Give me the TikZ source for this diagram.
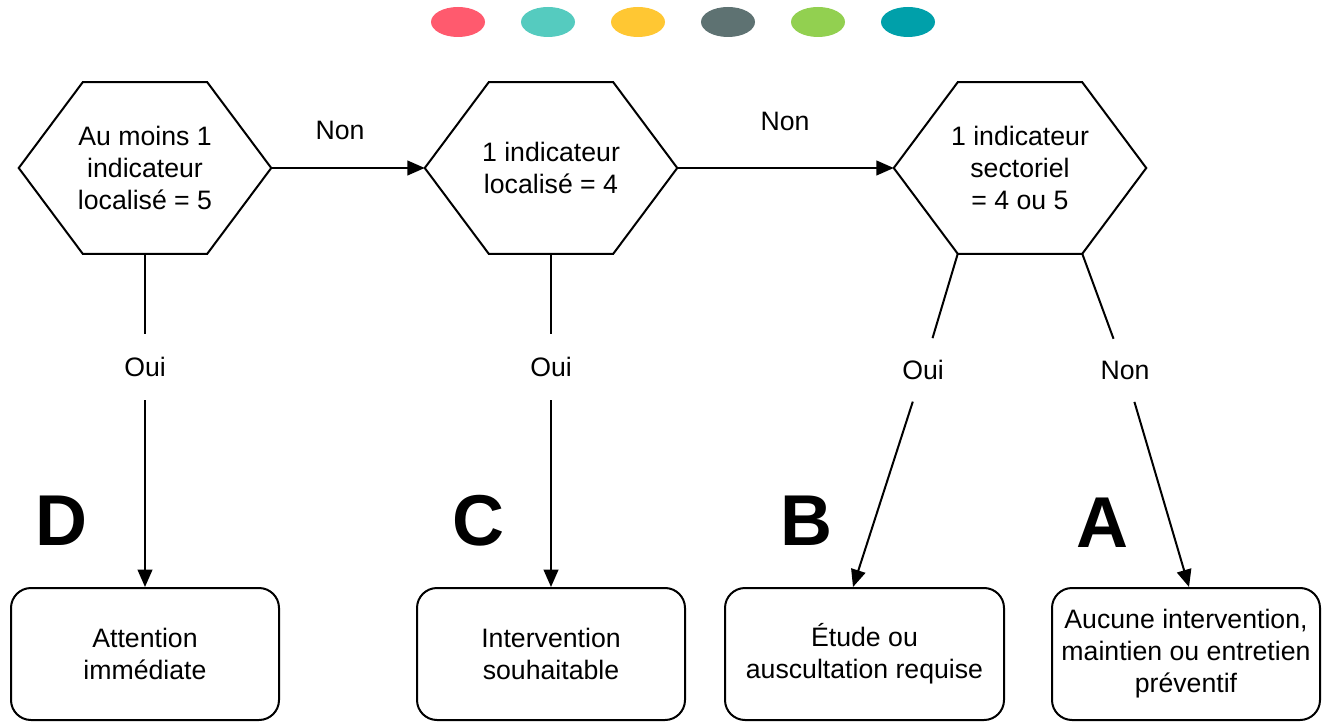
\documentclass[tikz,border=0pt]{standalone}
\usepackage{fontspec}
\setmainfont{Liberation Sans}
\usetikzlibrary{arrows.meta,calc}

\definecolor{dotred}{HTML}{FF5A6E}
\definecolor{dotmint}{HTML}{55CBBF}
\definecolor{dotyellow}{HTML}{FFC733}
\definecolor{dotslate}{HTML}{5E7272}
\definecolor{dotgreen}{HTML}{92D050}
\definecolor{dotteal}{HTML}{00A0AA}

\begin{document}
\begin{tikzpicture}[
    x=0.75pt, y=-0.75pt,
    test/.style={draw=none, minimum width=189pt, minimum height=128.25pt,
        inner sep=0pt, align=center, font=\fontsize{20}{24}\selectfont},
    hexline/.style={line width=1.5pt, line join=miter},
    outcome/.style={draw=black, line width=1.5pt, rounded corners=15pt,
        minimum width=201pt, minimum height=99pt, align=center,
        font=\fontsize{20}{24}\selectfont},
    grade/.style={font=\fontsize{54}{54}\selectfont\bfseries},
    answer/.style={circle, minimum size=49.5pt, inner sep=0pt,
        font=\fontsize{20}{24}\selectfont},
    edge/.style={line width=1.5pt, -{Triangle[length=13pt, width=11pt]}},
    seg/.style={line width=1.5pt, -}
]
    \useasboundingbox (0,0) rectangle (1323,723);

    % coloured dots
    \foreach \c [count=\i] in {dotred,dotmint,dotyellow,dotslate,dotgreen,dotteal}
        \fill[\c] (368+90*\i,22) ellipse [x radius=20.25pt, y radius=11.25pt];

    % tests
    \node[test] (q1) at (145,168) {Au moins 1\\indicateur\\localisé = 5};
    \node[test] (q2) at (551,168) {1 indicateur\\localisé = 4};
    \node[test] (q3) at (1020,168) {1 indicateur\\sectoriel\\= 4 ou 5};
    \foreach \q in {q1,q2,q3}
        \draw[hexline] ($(\q.north west)+(64,0)$) -- ($(\q.north east)+(-64,0)$)
            -- (\q.east) -- ($(\q.south east)+(-64,0)$)
            -- ($(\q.south west)+(64,0)$) -- (\q.west) -- cycle;
    \coordinate (q3sw) at ($(q3.south west)+(64,0)$);
    \coordinate (q3se) at ($(q3.south east)+(-64,0)$);

    % outcomes
    \node[outcome] (b1) at (145,654) {Attention\\immédiate};
    \node[outcome] (b2) at (551,654) {Intervention\\souhaitable};
    \node[outcome, minimum width=209.25pt] (b3) at (864.5,654) {Étude ou\\auscultation requise};
    \node[outcome] (b4) at (1186,654) {Aucune intervention,\\maintien ou entretien\\préventif};
    \coordinate (b3in) at ($(b3.north)+(-11.5,0)$);
    \coordinate (b4in) at ($(b4.north)+(3,0)$);

    \node[grade] (gd) at (61,521) {D};
    \node[grade] (gc) at (478,521) {C};
    \node[grade] (gb) at (806,521) {B};
    \node[grade] (ga) at (1102,523) {A};

    % answers
    \node[answer] (n1) at (340,130) {Non};
    \node[answer] (n2) at (785,121) {Non};
    \node[answer] (y1) at (145,367) {Oui};
    \node[answer] (y2) at (551,367) {Oui};
    \node[answer] (y3) at (923,370) {Oui};
    \node[answer] (n3) at (1125,370) {Non};

    \draw[edge] (q1.east) -- (q2.west);
    \draw[edge] (q2.east) -- (q3.west);
    \draw[seg] (q1.south) -- (y1);
    \draw[edge] (y1) -- (b1);
    \draw[seg] (q2.south) -- (y2);
    \draw[edge] (y2) -- (b2);
    \draw[seg] (q3sw) -- (y3);
    \draw[edge] (y3) -- (b3in);
    \draw[seg] (q3se) -- (n3);
    \draw[edge] (n3) -- (b4in);
\end{tikzpicture}
\end{document}
